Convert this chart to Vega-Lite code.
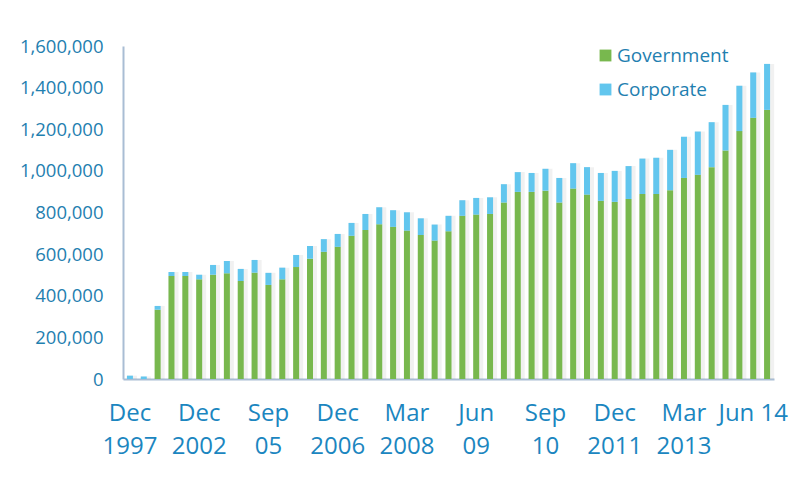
{
  "$schema": "https://vega.github.io/schema/vega-lite/v6.json",
  "autosize": {"type": "none"},
  "padding": {"left": 123, "top": 46, "right": 35, "bottom": 123},
  "width": 651,
  "height": 333,
  "background": "white",
  "config": {
    "view": {"stroke": null},
    "font": "Open Sans",
    "axis": {"grid": false, "ticks": false, "domainColor": "#a9bdd4", "domainWidth": 2, "labelColor": "#1f80b0", "labelFont": "Open Sans", "title": null},
    "legend": {"orient": "none", "legendX": 473, "legendY": 0, "symbolType": "square", "symbolSize": 140, "symbolStrokeWidth": 0, "labelFontSize": 19, "labelColor": "#1f80b0", "labelFont": "Open Sans", "labelOffset": 2, "rowPadding": 14, "title": null}
  },
  "data": {"values": [
    {"period": "Dec 1997", "Government": 0, "Corporate": 16000},
    {"period": "Dec 1998", "Government": 0, "Corporate": 12000},
    {"period": "Dec 1999", "Government": 333000, "Corporate": 18000},
    {"period": "Dec 2000", "Government": 495000, "Corporate": 19000},
    {"period": "Dec 2001", "Government": 495000, "Corporate": 19000},
    {"period": "Dec 2002", "Government": 479000, "Corporate": 22000},
    {"period": "Jun 2003", "Government": 501000, "Corporate": 47000},
    {"period": "Dec 2003", "Government": 508000, "Corporate": 59000},
    {"period": "Jun 2004", "Government": 471000, "Corporate": 58000},
    {"period": "Dec 2004", "Government": 511000, "Corporate": 61000},
    {"period": "Sep 05", "Government": 452000, "Corporate": 58000},
    {"period": "Dec 2005", "Government": 479000, "Corporate": 56000},
    {"period": "Mar 2006", "Government": 538000, "Corporate": 58000},
    {"period": "Jun 2006", "Government": 578000, "Corporate": 61000},
    {"period": "Sep 2006", "Government": 611000, "Corporate": 61000},
    {"period": "Dec 2006", "Government": 635000, "Corporate": 62000},
    {"period": "Mar 2007", "Government": 688000, "Corporate": 62000},
    {"period": "Jun 2007", "Government": 716000, "Corporate": 77000},
    {"period": "Sep 2007", "Government": 744000, "Corporate": 81000},
    {"period": "Dec 2007", "Government": 731000, "Corporate": 80000},
    {"period": "Mar 2008", "Government": 713000, "Corporate": 88000},
    {"period": "Jun 2008", "Government": 692000, "Corporate": 80000},
    {"period": "Sep 2008", "Government": 665000, "Corporate": 77000},
    {"period": "Dec 2008", "Government": 710000, "Corporate": 74000},
    {"period": "Mar 2009", "Government": 784000, "Corporate": 75000},
    {"period": "Jun 09", "Government": 790000, "Corporate": 80000},
    {"period": "Sep 2009", "Government": 793000, "Corporate": 80000},
    {"period": "Dec 2009", "Government": 848000, "Corporate": 88000},
    {"period": "Mar 2010", "Government": 899000, "Corporate": 95000},
    {"period": "Jun 2010", "Government": 899000, "Corporate": 91000},
    {"period": "Sep 10", "Government": 905000, "Corporate": 105000},
    {"period": "Dec 2010", "Government": 848000, "Corporate": 118000},
    {"period": "Mar 2011", "Government": 915000, "Corporate": 122000},
    {"period": "Jun 2011", "Government": 886000, "Corporate": 132000},
    {"period": "Sep 2011", "Government": 856000, "Corporate": 134000},
    {"period": "Dec 2011", "Government": 851000, "Corporate": 149000},
    {"period": "Mar 2012", "Government": 865000, "Corporate": 158000},
    {"period": "Jun 2012", "Government": 889000, "Corporate": 170000},
    {"period": "Sep 2012", "Government": 889000, "Corporate": 174000},
    {"period": "Dec 2012", "Government": 907000, "Corporate": 194000},
    {"period": "Mar 2013", "Government": 966000, "Corporate": 198000},
    {"period": "Jun 2013", "Government": 981000, "Corporate": 208000},
    {"period": "Sep 2013", "Government": 1018000, "Corporate": 216000},
    {"period": "Dec 2013", "Government": 1098000, "Corporate": 219000},
    {"period": "Mar 2014", "Government": 1191000, "Corporate": 218000},
    {"period": "Jun 14", "Government": 1255000, "Corporate": 218000},
    {"period": "Sep 2014", "Government": 1293000, "Corporate": 221000}
  ]},
  "transform": [{"fold": ["Government", "Corporate"], "as": ["series", "value"]}],
  "encoding": {
    "x": {
      "field": "period", "type": "ordinal", "sort": null,
      "scale": {"paddingInner": 0.57, "paddingOuter": 0.285},
      "axis": {
        "values": ["Dec 1997", "Dec 2002", "Sep 05", "Dec 2006", "Mar 2008", "Jun 09", "Sep 10", "Dec 2011", "Mar 2013", "Jun 14"],
        "labelExpr": "datum.value == 'Jun 14' ? datum.value : split(datum.value, ' ')",
        "labelAngle": 0, "labelFontSize": 24, "labelLineHeight": 33, "labelPadding": 22, "labelBaseline": "top", "labelColor": "#1b86c0"
      }
    }
  },
  "layer": [
    {
      "mark": {"type": "bar", "color": "#777", "opacity": 0.1, "width": 10, "xOffset": 2},
      "encoding": {
        "y": {"aggregate": "sum", "field": "value", "type": "quantitative", "scale": {"domain": [0, 1600000]},
          "axis": {"values": [0, 200000, 400000, 600000, 800000, 1000000, 1200000, 1400000, 1600000], "format": ",d", "labelFontSize": 18.5, "labelPadding": 20}}
      }
    },
    {
      "mark": {"type": "bar", "width": 6},
      "encoding": {
        "y": {"field": "value", "type": "quantitative", "stack": "zero", "scale": {"domain": [0, 1600000]},
          "axis": {"values": [0, 200000, 400000, 600000, 800000, 1000000, 1200000, 1400000, 1600000], "format": ",d", "labelFontSize": 18.5, "labelPadding": 20}},
        "color": {"field": "series", "type": "nominal", "scale": {"domain": ["Government", "Corporate"], "range": ["#78b84e", "#62c6ee"]}},
        "order": {"field": "series", "sort": "descending"}
      }
    }
  ]
}
